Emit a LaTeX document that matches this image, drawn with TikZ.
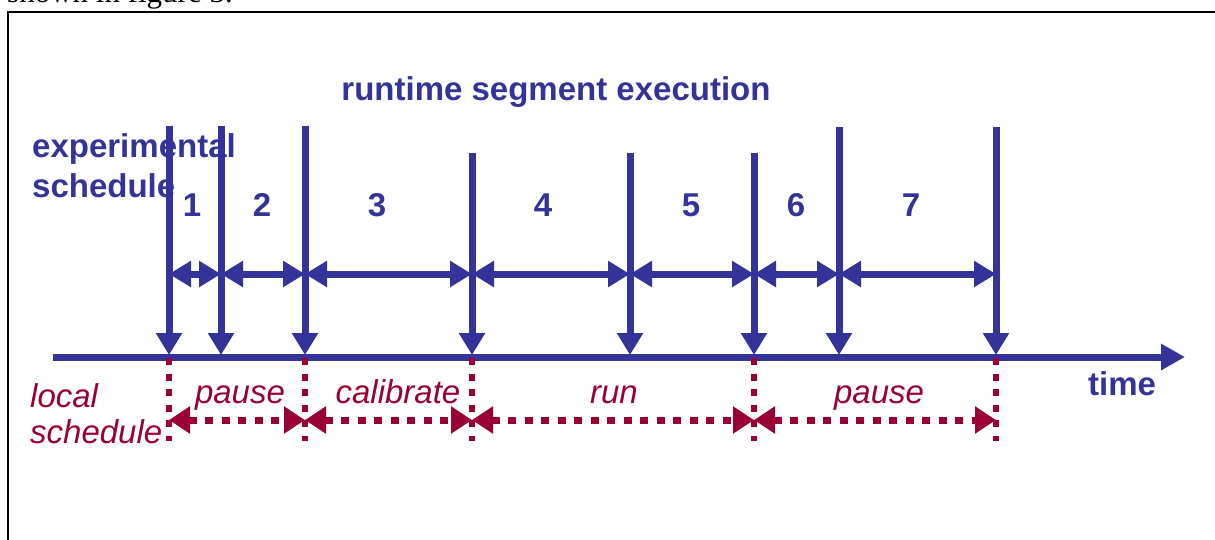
\documentclass[tikz,border=0pt]{standalone}
\usepackage{fontspec}
\setmainfont{Liberation Sans}
\newfontfamily\bodyserif{Liberation Serif}
\usetikzlibrary{arrows.meta}
\definecolor{navy}{HTML}{333399}
\definecolor{wine}{HTML}{990033}
\begin{document}
\begin{tikzpicture}[x=1pt,y=-1pt,
  bluetxt/.style={text=navy,font=\fontsize{33}{40}\selectfont\bfseries,inner sep=0pt},
  redtxt/.style={text=wine,font=\fontsize{33}{40}\selectfont\itshape,inner sep=0pt},
  bluetip/.tip={Triangle[length=22pt,width=25pt]},
  redtip/.tip={Triangle[length=21pt,width=26pt]},
  varrow/.style={draw=navy,line width=7pt,-bluetip},
  harrow/.style={draw=navy,line width=7pt,bluetip-bluetip},
  rdot/.style={draw=wine,line width=6.5pt,dash pattern=on 7pt off 8.5pt},
  rarrow/.style={draw=wine,line width=7pt,dash pattern=on 8pt off 8.5pt,redtip-redtip},
]
\useasboundingbox (0,0) rectangle (1215,539);
\clip (0,0) rectangle (1215,539);
\fill[white] (0,0) rectangle (1215,539);
% cut-off text above the frame
\node[anchor=base west,inner sep=0pt,font=\bodyserif\fontsize{31}{36}\selectfont] (cap) at (7,2) {shown in figure 3.};
% frame
\draw[line width=2pt] (8,12) rectangle (1300,700);

% texts
\node[bluetxt,anchor=base] (title) at (556,100) {runtime segment execution};
\node[bluetxt,anchor=base west] (exp1) at (32,157) {experimental};
\node[bluetxt,anchor=base west] (exp2) at (32,197) {schedule};
\node[bluetxt,anchor=base] (n1) at (192,216) {1};
\node[bluetxt,anchor=base] (n2) at (262,216) {2};
\node[bluetxt,anchor=base] (n3) at (377,216) {3};
\node[bluetxt,anchor=base] (n4) at (543,216) {4};
\node[bluetxt,anchor=base] (n5) at (691,216) {5};
\node[bluetxt,anchor=base] (n6) at (796,216) {6};
\node[bluetxt,anchor=base] (n7) at (911,216) {7};
\node[bluetxt,anchor=base west] (time) at (1088,395) {time};

\node[redtxt,anchor=base west] (loc1) at (30,407) {local};
\node[redtxt,anchor=base west] (loc2) at (30,443) {schedule};
\node[redtxt,anchor=base] (l1) at (240,403) {pause};
\node[redtxt,anchor=base] (l2) at (398,403) {calibrate};
\node[redtxt,anchor=base] (l3) at (614,403) {run};
\node[redtxt,anchor=base] (l4) at (879,403) {pause};

% timeline
\coordinate (ts) at (53,357);
\coordinate (te) at (1185,357);
\draw[draw=navy,line width=7pt,-{Triangle[length=24pt,width=25pt]}] (ts) -- (te);

% vertical arrows
\foreach \i/\x/\y in {1/169/126,2/221/126,3/305/126,4/472/153,5/630/153,6/754/153,7/839/127,8/996/127}{
  \coordinate (t\i) at (\x,\y);
  \coordinate (b\i) at (\x,355);
  \coordinate (h\i) at (\x,274);
  \draw[varrow] (t\i) -- (b\i);
}
% horizontal double arrows
\foreach \i/\j in {1/2,2/3,3/4,4/5,5/6,6/7,7/8}{
  \draw[harrow] (h\i) -- (h\j);
}

% local schedule dotted verticals
\foreach \i/\x in {1/169,2/305,3/472,4/754,5/996}{
  \coordinate (rt\i) at (\x,358);
  \coordinate (rb\i) at (\x,441);
  \coordinate (rh\i) at (\x,420);
  \draw[rdot] (rt\i) -- (rb\i);
}
\foreach \i/\j in {1/2,2/3,3/4,4/5}{
  \draw[rarrow] (rh\i) -- (rh\j);
}
\end{tikzpicture}
\end{document}
